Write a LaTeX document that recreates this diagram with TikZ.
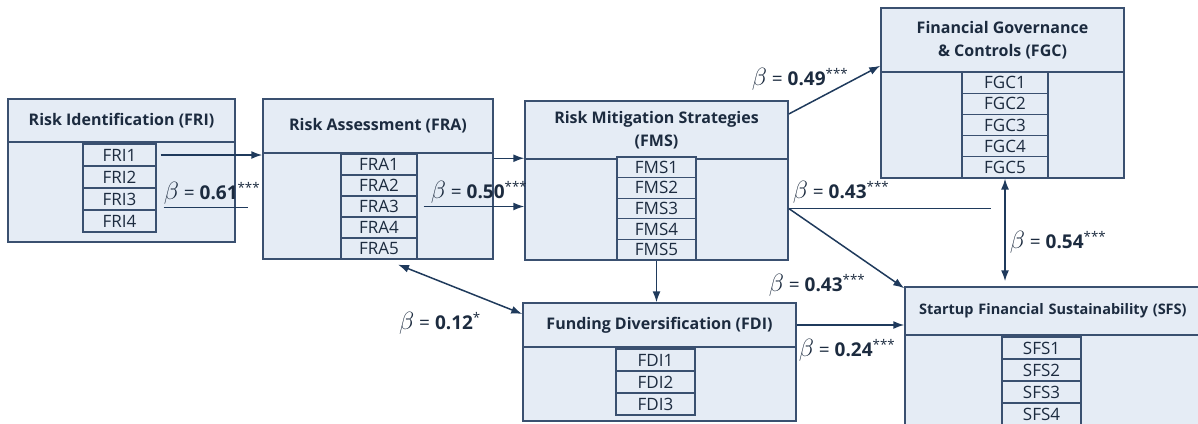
\documentclass[tikz,border=0pt]{standalone}
\usepackage{fontspec}
\setmainfont{Open Sans}
\usetikzlibrary{arrows.meta}

\definecolor{boxfill}{HTML}{E5ECF5}
\definecolor{boxline}{HTML}{3A5070}
\definecolor{ink}{HTML}{1C2B3F}
\definecolor{arrowc}{HTML}{1F3A5C}

\newcommand{\bcoef}[2]{{\fontsize{25}{25}\selectfont$\beta$} = \textbf{#1}\textsuperscript{#2}}

\tikzset{
    hdr/.style={draw=boxline, fill=boxfill, line width=1.5pt, inner sep=0pt,
        font=\fontsize{16}{23}\selectfont\bfseries, text=ink, align=center},
    bodybox/.style={draw=boxline, fill=boxfill, line width=1.5pt, inner sep=0pt},
    item/.style={draw=boxline, fill=boxfill, line width=1.2pt, inner sep=0pt,
        font=\fontsize{17}{18}\selectfont, text=ink},
    coef/.style={font=\fontsize{19}{22}\selectfont, text=ink, inner sep=0pt},
    link/.style={draw=arrowc, line width=1.5pt},
    arr/.style={link, -{Latex[length=11pt,width=8pt]}},
    darr/.style={link, {Latex[length=11pt,width=8pt]}-{Latex[length=11pt,width=8pt]}}
}

\begin{document}
\begin{tikzpicture}[x=1pt, y=-1pt]
    \useasboundingbox (0,0) rectangle (1198,423);
    \clip (0,0) rectangle (1198,423);

    % bodies
    \node[bodybox, minimum width=227pt, minimum height=100pt] (fribody) at (121.5,192) {};
    \node[bodybox, minimum width=230pt, minimum height=106pt] (frabody) at (378,206) {};
    \node[bodybox, minimum width=263pt, minimum height=103pt] (fmsbody) at (656.5,208.5) {};
    \node[bodybox, minimum width=243pt, minimum height=106pt] (fgcbody) at (1002.5,125) {};
    \node[bodybox, minimum width=273pt, minimum height=74pt] (fdibody) at (659.5,384) {};
    \node[bodybox, minimum width=310pt, minimum height=115pt] (sfsbody) at (1060,392.5) {};

    % headers
    \node[hdr, minimum width=227pt, minimum height=43pt] (fri) at (121.5,120.5) {Risk Identification (FRI)};
    \node[hdr, minimum width=230pt, minimum height=54pt] (fra) at (378,126) {Risk Assessment (FRA)};
    \node[hdr, minimum width=263pt, minimum height=58pt] (fms) at (656.5,130) {Risk Mitigation Strategies\\(FMS)};
    \node[hdr, minimum width=243pt, minimum height=64pt] (fgc) at (1002.5,40) {Financial Governance\\\& Controls (FGC)};
    \node[hdr, minimum width=273pt, minimum height=44pt] (fdi) at (659.5,325) {Funding Diversification (FDI)};
    \node[hdr, minimum width=310pt, minimum height=48pt, text width=282pt, align=left,
        font=\fontsize{14.5}{23}\selectfont\bfseries] (sfs) at (1060,311)
        {Startup Financial Sustainability (SFS)};

    % indicators
    \node[item, minimum width=73pt, minimum height=22pt] (fri1) at (119.5,155) {FRI1};
    \node[item, minimum width=73pt, minimum height=22pt] (fri2) at (119.5,177) {FRI2};
    \node[item, minimum width=73pt, minimum height=22pt] (fri3) at (119.5,199) {FRI3};
    \node[item, minimum width=73pt, minimum height=22pt] (fri4) at (119.5,221) {FRI4};

    \node[item, minimum width=76pt, minimum height=21pt] (fra1) at (379,164.5) {FRA1};
    \node[item, minimum width=76pt, minimum height=21pt] (fra2) at (379,185.5) {FRA2};
    \node[item, minimum width=76pt, minimum height=21pt] (fra3) at (379,206.5) {FRA3};
    \node[item, minimum width=76pt, minimum height=21pt] (fra4) at (379,227.5) {FRA4};
    \node[item, minimum width=76pt, minimum height=21pt] (fra5) at (379,248.5) {FRA5};

    \node[item, minimum width=79pt, minimum height=20.6pt] (fms1) at (656.5,167.3) {FMS1};
    \node[item, minimum width=79pt, minimum height=20.6pt] (fms2) at (656.5,187.9) {FMS2};
    \node[item, minimum width=79pt, minimum height=20.6pt] (fms3) at (656.5,208.5) {FMS3};
    \node[item, minimum width=79pt, minimum height=20.6pt] (fms4) at (656.5,229.1) {FMS4};
    \node[item, minimum width=79pt, minimum height=20.6pt] (fms5) at (656.5,249.7) {FMS5};

    \node[item, minimum width=86pt, minimum height=21.2pt] (fgc1) at (1005,82.6) {FGC1};
    \node[item, minimum width=86pt, minimum height=21.2pt] (fgc2) at (1005,103.8) {FGC2};
    \node[item, minimum width=86pt, minimum height=21.2pt] (fgc3) at (1005,125) {FGC3};
    \node[item, minimum width=86pt, minimum height=21.2pt] (fgc4) at (1005,146.2) {FGC4};
    \node[item, minimum width=86pt, minimum height=21.2pt] (fgc5) at (1005,167.4) {FGC5};

    \node[item, minimum width=79pt, minimum height=22pt] (fdi1) at (655.5,360) {FDI1};
    \node[item, minimum width=79pt, minimum height=22pt] (fdi2) at (655.5,382) {FDI2};
    \node[item, minimum width=79pt, minimum height=22pt] (fdi3) at (655.5,404) {FDI3};

    \node[item, minimum width=79pt, minimum height=22pt] (sfs1) at (1041.5,348) {SFS1};
    \node[item, minimum width=79pt, minimum height=22pt] (sfs2) at (1041.5,370) {SFS2};
    \node[item, minimum width=79pt, minimum height=22pt] (sfs3) at (1041.5,392) {SFS3};
    \node[item, minimum width=79pt, minimum height=22pt] (sfs4) at (1041.5,414) {SFS4};

    % paths
    \coordinate (frifoot) at ([xshift=91pt,yshift=3pt]fri3.south east);
    \coordinate (fgcfoot) at ([xshift=202pt]fmsbody.east);
    \draw[arr] ([xshift=4pt]fri1.east) -- (fri1.east -| frabody.west);
    \draw[link] ([xshift=7pt,yshift=3pt]fri3.south east) -- (frifoot);
    \draw[arr] ([yshift=-6pt]frabody.north east) -- ([yshift=-6pt]frabody.north east -| fmsbody.west);
    \draw[arr] ([xshift=6pt]fra3.east) -- (fra3.east -| fmsbody.west);
    \draw[arr] (fms5.south) -- (fms5.south |- fdi.north);
    \draw[darr] ([xshift=19pt,yshift=-5pt]fra5.south) -- ([yshift=11pt]fdi.west);
    \draw[arr] ([yshift=16pt]fms.east) -- ([yshift=7pt]fgc.south west);
    \draw[link] (fmsbody.east) -- (fgcfoot);
    \draw[arr] (fmsbody.east) -- ([yshift=-2pt]sfs.north west);
    \draw[arr] (fdi.east) -- (fdi.east -| sfs.west);
    \draw[darr] (fgc5.south) -- ([yshift=5pt]fgc5.south |- sfs.north);

    % coefficients
    \node[coef] (b061) at (212,193) {\bcoef{0.61}{***}};
    \node[coef] (b050) at (479,192) {\bcoef{0.50}{***}};
    \node[coef] (b049) at (800,79) {\bcoef{0.49}{***}};
    \node[coef] (b043a) at (841,192) {\bcoef{0.43}{***}};
    \node[coef] (b043b) at (817,285) {\bcoef{0.43}{***}};
    \node[coef] (b024) at (847,350) {\bcoef{0.24}{***}};
    \node[coef] (b012) at (440,323) {\bcoef{0.12}{*}};
    \node[coef] (b054) at (1058,242) {\bcoef{0.54}{***}};
\end{tikzpicture}
\end{document}
